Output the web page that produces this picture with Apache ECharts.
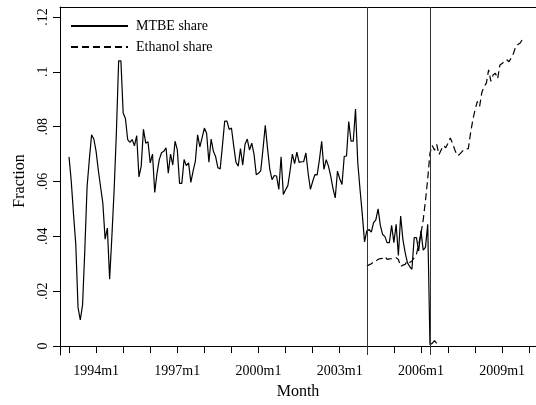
<!DOCTYPE html>
<html>
<head>
<meta charset="utf-8">
<script src="https://cdn.jsdelivr.net/npm/echarts@6/dist/echarts.min.js"></script>
<style>
html,body{margin:0;padding:0;background:#fff;}
#chart{width:536px;height:405px;}
</style>
</head>
<body>
<div id="chart"></div>
<script>
// Axis span (months), tick labels
var axisStart = [1992, 9];
var axisEnd = [2010, 4];
var xTickLabels = ['1994m1', '1997m1', '2000m1', '2003m1', '2006m1', '2009m1'];
var yTickValues = [0, 0.02, 0.04, 0.06, 0.08, 0.1, 0.12];
var policyMonths = ['2004m1', '2006m5'];

// MTBE share, monthly from 1993m1
var mtbeStart = '1993m1';
var mtbeShare = [
  0.069,0.060,0.048,0.037,0.014,0.0095,0.015,0.035,0.058,0.068,0.077,0.0755,
  0.071,0.064,0.058,0.052,0.039,0.043,0.0244,0.040,0.057,0.078,0.104,0.104,
  0.085,0.083,0.0753,0.0743,0.0753,0.073,0.0767,0.0617,0.0656,0.079,0.074,0.0745,
  0.0668,0.070,0.056,0.063,0.068,0.0705,0.071,0.0723,0.063,0.070,0.066,0.0747,
  0.0716,0.0593,0.0593,0.068,0.0658,0.0668,0.0597,0.0638,0.0674,0.077,0.0726,0.076,
  0.0795,0.0775,0.067,0.0755,0.071,0.069,0.065,0.0646,0.073,0.082,0.082,0.079,
  0.0795,0.073,0.067,0.0656,0.072,0.066,0.0735,0.0755,0.0715,0.074,0.070,0.0625,
  0.063,0.064,0.072,0.0805,0.072,0.0644,0.0607,0.0622,0.062,0.0571,0.069,0.0553,
  0.057,0.0585,0.064,0.070,0.0665,0.0707,0.067,0.0672,0.0672,0.0704,0.063,0.0571,
  0.060,0.0625,0.0624,0.068,0.0747,0.0644,0.068,0.0656,0.062,0.0575,0.054,0.0638,
  0.061,0.0589,0.0692,0.0693,0.0819,0.0747,0.0747,0.0864,0.0668,0.0571,0.048,0.038,
  0.042,0.0425,0.0415,0.045,0.046,0.050,0.044,0.0407,0.040,0.0377,0.0377,0.044,
  0.0377,0.0444,0.033,0.0474,0.0389,0.0341,0.0304,0.029,0.028,0.0395,0.0395,0.0347,
  0.042,0.035,0.036,0.0444,0.0005,0.001,0.002,0.001
];

// Ethanol share, monthly from 2004m1
var ethanolStart = '2004m1';
var ethanolShare = [
  0.0292,0.0296,0.0300,0.0307,0.031,0.0316,0.0319,0.032,0.0326,0.0316,0.0318,0.0319,
  0.0322,0.0322,0.0316,0.029,0.0295,0.0298,0.031,0.0305,0.031,0.0322,0.0335,0.037,
  0.041,0.046,0.053,0.061,0.0704,0.0731,0.0714,0.0735,0.0698,0.0716,0.0731,0.0723,
  0.074,0.0759,0.074,0.0716,0.0695,0.0698,0.0707,0.0716,0.0719,0.072,0.0777,0.0825,
  0.0862,0.0892,0.0874,0.0925,0.0947,0.0959,0.1007,0.0965,0.0989,0.0995,0.0975,0.1025,
  0.103,0.104,0.1044,0.1037,0.105,0.1067,0.1092,0.110,0.1105,0.1119,0.1116
];

// month category labels
var months = [];
(function () {
  var y = axisStart[0], m = axisStart[1];
  while (y < axisEnd[0] || (y === axisEnd[0] && m <= axisEnd[1])) {
    months.push(y + 'm' + m);
    m++; if (m > 12) { m = 1; y++; }
  }
})();

function align(values, start) {
  var out = months.map(function () { return null; });
  var i0 = months.indexOf(start);
  values.forEach(function (v, i) { out[i0 + i] = v; });
  return out;
}

var FONT = '"Liberation Serif", "DejaVu Serif", serif';
var chart = echarts.init(document.getElementById('chart'), null, {renderer: 'canvas'});
chart.setOption({
  animation: false,
  backgroundColor: '#fff',
  grid: {left: 60, right: 0, top: 7, bottom: 49, show: false},
  legend: {
    orient: 'vertical', left: 65, top: 14, itemWidth: 57, itemHeight: 14, itemGap: 7,
    textStyle: {fontFamily: FONT, fontSize: 14, color: '#000', padding: [0, 0, 0, 3]},
    data: [
      {name: 'MTBE share', itemStyle: {opacity: 0}},
      {name: 'Ethanol share', itemStyle: {opacity: 0}}
    ]
  },
  xAxis: [{
    type: 'category', data: months, boundaryGap: false,
    name: 'Month', nameLocation: 'middle', nameGap: 29,
    nameTextStyle: {fontFamily: FONT, fontSize: 16, color: '#000'},
    axisLine: {lineStyle: {color: '#000', width: 1}},
    axisTick: {length: 7, lineStyle: {color: '#000'}, interval: function (i, v) { return /m1$/.test(v); }},
    axisLabel: {margin: 9, fontFamily: FONT, fontSize: 14, color: '#000',
      interval: function (i, v) { return xTickLabels.indexOf(v) >= 0; }},
    splitLine: {show: false}
  }, {
    type: 'category', data: months, boundaryGap: false, position: 'top',
    axisLine: {show: true, lineStyle: {color: '#000', width: 1}},
    axisTick: {show: false}, axisLabel: {show: false}, splitLine: {show: false}
  }],
  yAxis: {
    type: 'value', min: -0.00327, max: 0.12364,
    name: 'Fraction', nameLocation: 'middle', nameGap: 32,
    nameTextStyle: {fontFamily: FONT, fontSize: 16, color: '#000'},
    axisLine: {show: true, lineStyle: {color: '#000', width: 1}},
    axisTick: {show: true, length: 7, lineStyle: {color: '#000'}, customValues: yTickValues},
    axisLabel: {rotate: 90, margin: 10, fontFamily: FONT, fontSize: 14, color: '#000',
      customValues: yTickValues,
      formatter: function (v) { return v === 0 ? '0' : String(v).replace(/^0/, ''); }},
    splitLine: {show: false}
  },
  series: [
    {
      name: 'MTBE share', type: 'line', data: align(mtbeShare, mtbeStart),
      showSymbol: false, symbol: 'none', connectNulls: false,
      lineStyle: {color: '#000', width: 1.2, type: 'solid'},
      itemStyle: {color: '#000'},
      markLine: {
        silent: true, symbol: 'none', label: {show: false},
        lineStyle: {color: '#333', width: 1, type: 'solid'},
        data: policyMonths.map(function (m) { return {xAxis: m}; })
      }
    },
    {
      name: 'Ethanol share', type: 'line', data: align(ethanolShare, ethanolStart),
      showSymbol: false, symbol: 'none', connectNulls: false,
      lineStyle: {color: '#000', width: 1.2, type: [7, 4]},
      itemStyle: {color: '#000'}
    }
  ]
});
</script>
</body>
</html>
